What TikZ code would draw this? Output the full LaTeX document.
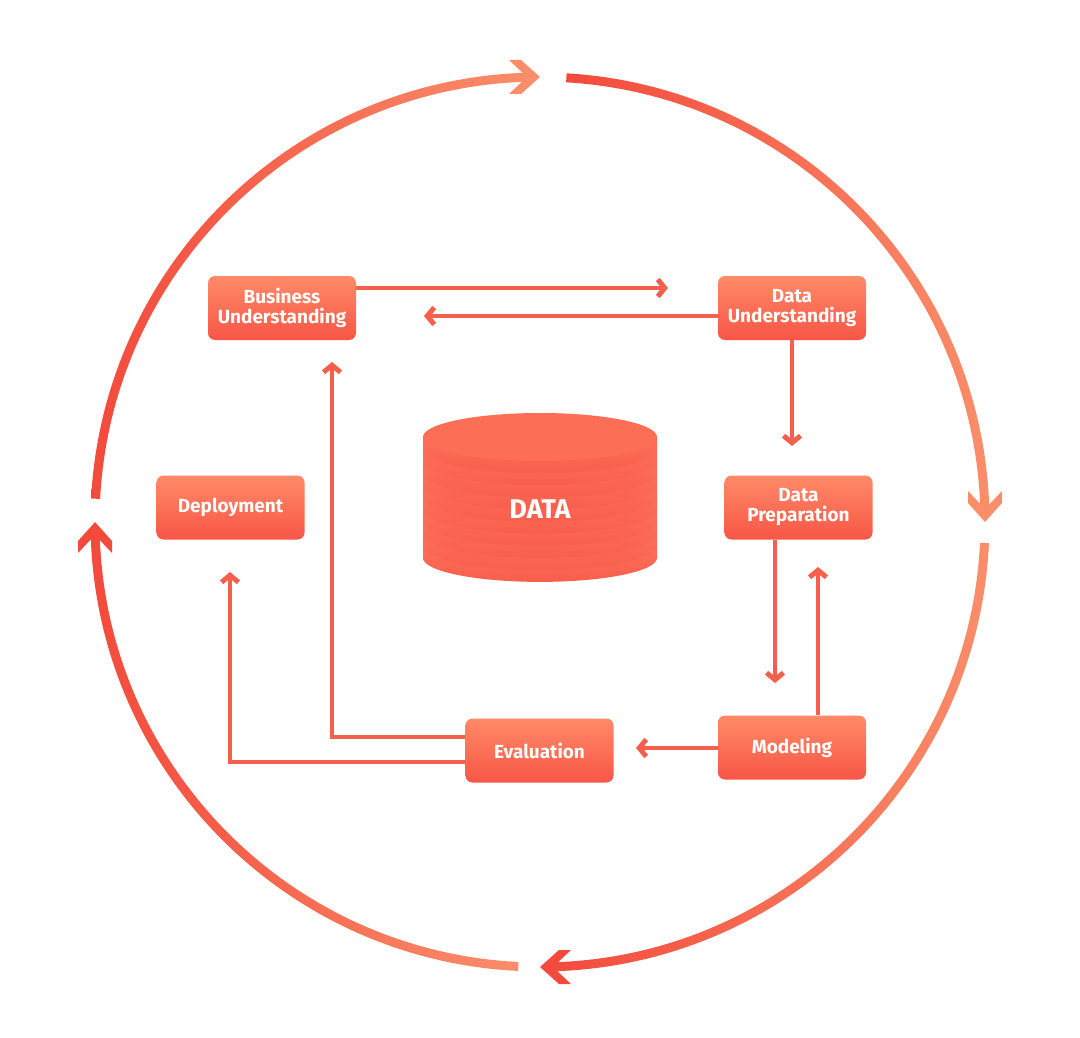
\documentclass[tikz,border=0pt]{standalone}
\usepackage{fontspec}
\setmainfont{Fira Sans}
\usetikzlibrary{arrows.meta}
\definecolor{cRed}{RGB}{243,74,60}
\definecolor{cPeach}{RGB}{250,142,106}
\definecolor{boxTop}{RGB}{255,138,104}
\definecolor{boxBot}{RGB}{248,86,70}
\definecolor{connC}{RGB}{245,96,76}
\definecolor{cylA}{RGB}{253,112,88}
\definecolor{cylB}{RGB}{248,94,76}
\definecolor{cylTop}{RGB}{253,110,86}
\newcommand{\ringarc}[4]{%
  \shade[left color=#3, right color=#4]
    ([shift={(540,-522)}]#1:449.5) arc[start angle=#1, end angle=#2, radius=449.5]
    -- ([shift={(540,-522)}]#2:440.5) arc[start angle=#2, end angle=#1, radius=440.5] -- cycle;}
\newcommand{\ringchev}[2]{%
  \fill[#2, shift={({540+445*cos(#1)},{-522+445*sin(#1)})}, rotate=#1-90]
    (0,0) -- (-19,17) -- (-31,17) -- (-13,0) -- (-31,-17) -- (-19,-17) -- cycle;}
\begin{document}
\begin{tikzpicture}[x=1pt,y=1pt,
  box/.style={rectangle, rounded corners=7pt, minimum width=148pt, minimum height=64pt,
    inner sep=0pt, top color=boxTop, bottom color=boxBot, text=white, align=center,
    font=\bfseries\fontsize{19}{20}\selectfont},
  conn/.style={draw=connC, line width=4pt,
    -{Straight Barb[length=7pt,width=17pt,line width=5pt]}}
]
\fill[white] (0,0) rectangle (1080,-1038);
\useasboundingbox (0,0) rectangle (1080,-1038);

% outer ring
\ringarc{177}{91.2}{cRed}{cPeach}
\ringarc{86.6}{1.2}{cRed}{cPeach}
\ringarc{-2.7}{-88.8}{cRed}{cPeach}
\ringarc{-92.8}{-178.8}{cRed}{cPeach}
\ringchev{90}{cPeach}
\ringchev{0}{cPeach}
\ringchev{-90}{cRed}
\ringchev{180}{cRed}

% cylinder
\foreach \k in {9,8,...,0}{
  \pgfmathsetmacro\yk{449+12.1*\k}
  \pgfmathsetmacro\yt{\yk-12.1}
  \shade[top color=cylA, bottom color=cylB]
    (423,-\yt) -- (423,-\yk) arc[start angle=180, end angle=360, x radius=117, y radius=24]
    -- (657,-\yt) -- cycle;
}
\fill[cylTop] (540,-437) ellipse[x radius=117, y radius=24];
\node[text=white, font=\bfseries\fontsize{27}{30}\selectfont] (data) at (540,-509) {DATA};

% boxes
\node[box] (bu) at (282,-308) {Business\\Understanding};
\node[box] (du) at (792,-308) {Data\\Understanding};
\node[box] (dep) at (230.5,-507.5) {Deployment};
\node[box] (dp) at (798.5,-507.5) {Data\\Preparation};
\node[box] (ev) at (539.5,-750.5) {Evaluation};
\node[box] (mo) at (792,-747.5) {Modeling};

% connector tips
\coordinate (t1) at (668,-288);
\coordinate (t2) at (424,-316);
\coordinate (t3) at (792,-446);
\coordinate (t4) at (775,-683);
\coordinate (t5) at (818,-567);
\coordinate (t6) at (636,-748);
\coordinate (t7) at (332,-362);
\coordinate (t8) at (230,-572);

\draw[conn] (bu.east |- t1) -- (t1);
\draw[conn] (du.west |- t2) -- (t2);
\draw[conn] (du.south -| t3) -- (t3);
\draw[conn] (dp.south -| t4) -- (t4);
\draw[conn] (mo.north -| t5) -- (t5);
\draw[conn] (mo.west |- t6) -- (t6);
\draw[conn] ([yshift=13.5pt]ev.west) -| (t7);
\draw[conn] ([yshift=-11.5pt]ev.west) -| (t8);
\end{tikzpicture}
\end{document}
